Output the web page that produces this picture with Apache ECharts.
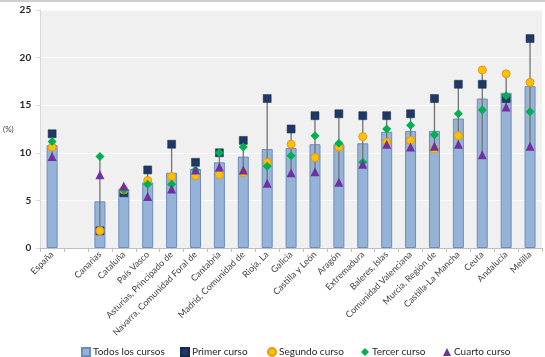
<!DOCTYPE html>
<html><head><meta charset="utf-8">
<script src="https://cdn.jsdelivr.net/npm/echarts@6/dist/echarts.min.js"></script>
<style>html,body{margin:0;padding:0;background:#fff}#c{width:545px;height:357px}</style>
</head><body><div id="c"></div>
<script>
const categories = ["España","","Canarias","Cataluña","País Vasco","Asturias, Principado de","Navarra, Comunidad Foral de","Cantabria","Madrid, Comunidad de","Rioja, La","Galicia","Castilla y León","Aragón","Extremadura","Baleres, Islas","Comunidad Valenciana","Murcia, Región de","Castilla-La Mancha","Ceuta","Andalucía","Melilla"];
const todos   = [10.8,null,4.9,6.2,6.9,7.9,8.3,9.0,9.6,10.4,10.5,10.9,10.9,11.0,12.2,12.3,12.3,13.6,15.7,16.3,17.0];
const primer  = [12.0,null,1.8,5.8,8.2,10.9,9.0,10.0,11.3,15.7,12.5,13.9,14.1,13.9,13.9,14.1,15.7,17.2,17.2,15.7,22.0];
const segundo = [10.6,null,1.8,6.1,7.1,7.5,7.6,7.7,7.9,9.0,10.9,9.5,10.6,11.7,11.1,11.3,10.4,11.8,18.7,18.3,17.4];
const tercer  = [11.2,null,9.6,6.1,6.7,6.7,8.2,10.0,10.6,8.6,9.7,11.8,11.0,9.0,12.5,12.9,11.9,14.1,14.5,16.0,14.3];
const cuarto  = [9.6,null,7.7,6.5,5.4,6.2,8.2,8.5,8.2,6.8,7.9,8.0,6.9,8.8,10.9,10.6,10.7,10.9,9.8,14.8,10.7];
const yTicks = [0,5,10,15,20,25];

const ranges = categories.map((c,i)=>{
  const v=[primer[i],segundo[i],tercer[i],cuarto[i]].filter(x=>x!=null);
  return v.length?[i,Math.min(...v),Math.max(...v)]:[i,null,null];
}).filter(r=>r[1]!=null);

const font = 'Lato, "Open Sans", sans-serif';
const chart = echarts.init(document.getElementById('c'), null, {renderer:'canvas'});
const legendBase = {top:342, itemWidth:8, itemHeight:8, itemGap:0, textStyle:{fontFamily:font,fontSize:10,color:'#262626',padding:[0,0,0,-2]}};
chart.setOption({
  animation:false,
  backgroundColor:'#fff',
  textStyle:{fontFamily:font},
  grid:{left:37,right:3,top:10,bottom:109,show:true,backgroundColor:'#f0f0f0',borderWidth:0},
  graphic:[{type:'line',shape:{x1:0,y1:1,x2:545,y2:1},style:{stroke:'#cfcfcf',lineWidth:2}}],
  legend:[
    Object.assign({},legendBase,{left:76,data:[{name:'Todos los cursos',icon:'rect'}]}),
    Object.assign({},legendBase,{left:175,data:[{name:'Primer curso',icon:'rect'}]}),
    Object.assign({},legendBase,{left:262,data:[{name:'Segundo curso',icon:'circle'}]}),
    Object.assign({},legendBase,{left:356,data:[{name:'Tercer curso',icon:'diamond'}]}),
    Object.assign({},legendBase,{left:438,data:[{name:'Cuarto curso',icon:'triangle'}]})
  ],
  xAxis:{type:'category',data:categories,boundaryGap:true,
    axisLine:{lineStyle:{color:'#bfbfbf'}},
    axisTick:{show:true,interval:0,length:4,lineStyle:{color:'#bfbfbf'}},
    axisLabel:{interval:0,rotate:45,fontSize:9,color:'#404040',margin:5,fontFamily:font}},
  yAxis:{type:'value',min:0,max:25,interval:5,
    name:'(%)',nameLocation:'middle',nameRotate:0,nameGap:25,nameTextStyle:{fontSize:8,color:'#404040',fontFamily:font},
    axisLine:{show:true,lineStyle:{color:'#d9d9d9'}},
    axisTick:{show:true,length:4,lineStyle:{color:'#d9d9d9'}},
    axisLabel:{fontSize:10,color:'#262626',margin:9,fontWeight:'bold',fontFamily:font,
      formatter:v=>yTicks.includes(v)?String(v):''},
    splitLine:{lineStyle:{color:'#fafafa',width:1}}},
  series:[
    {name:'Todos los cursos',type:'bar',data:todos,barWidth:11,z:1,
      itemStyle:{color:'#95b3d7',borderColor:'#6d8cbb',borderWidth:1}},
    {name:'range',type:'custom',data:ranges,z:2,encode:{x:0,y:[1,2]},
      renderItem:(params,api)=>{
        const x=api.value(0);
        const p1=api.coord([x,api.value(1)]), p2=api.coord([x,api.value(2)]);
        return {type:'line',shape:{x1:p1[0],y1:p1[1],x2:p2[0],y2:p2[1]},style:{stroke:'#737373',lineWidth:1.3}};
      }},
    {name:'Primer curso',type:'scatter',data:primer,symbol:'rect',symbolSize:8,z:3,
      itemStyle:{color:'#1f3864',borderColor:'#17294a',borderWidth:0.5,opacity:1}},
    {name:'Segundo curso',type:'scatter',data:segundo,symbol:'circle',symbolSize:8,z:4,
      itemStyle:{color:'#ffc000',borderColor:'#e39a1a',borderWidth:1,opacity:1}},
    {name:'Tercer curso',type:'scatter',data:tercer,symbol:'diamond',symbolSize:9,z:5,
      itemStyle:{color:'#00b050',opacity:1}},
    {name:'Cuarto curso',type:'scatter',data:cuarto,symbol:'triangle',symbolSize:9,z:6,
      itemStyle:{color:'#7030a0',opacity:1}}
  ]
});
</script></body></html>
